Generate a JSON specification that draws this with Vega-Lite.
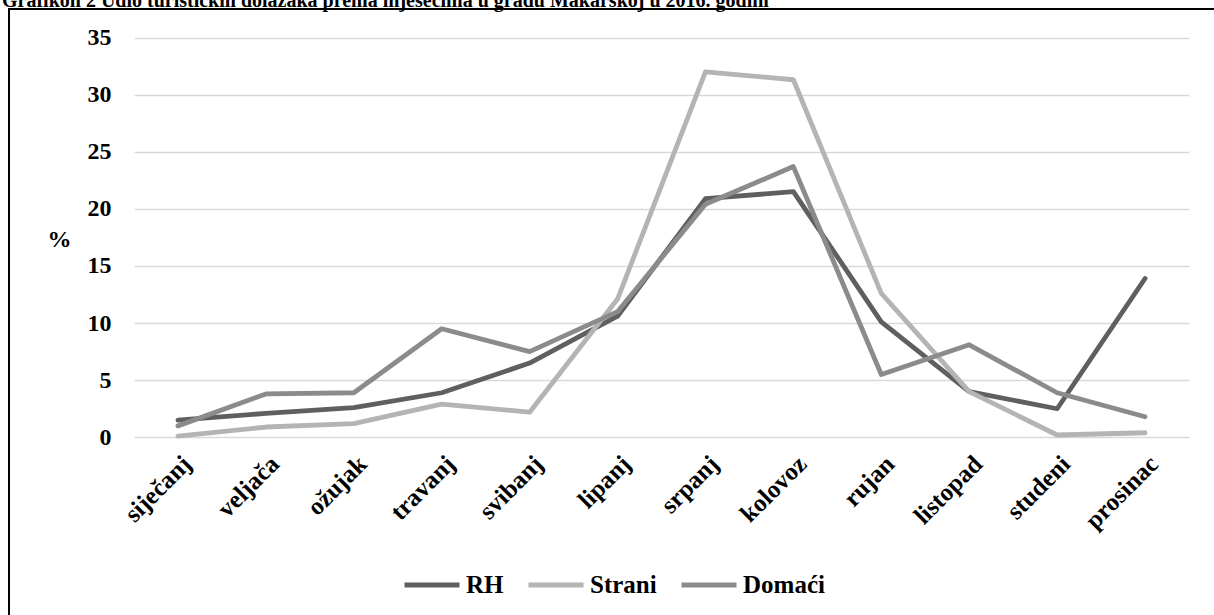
{
  "$schema": "https://vega.github.io/schema/vega-lite/v6.json",
  "autosize": "none",
  "width": 1230,
  "height": 626,
  "padding": {"left": 9, "top": 9, "right": -25, "bottom": -20},
  "background": "white",
  "title": {
    "text": "Grafikon 2 Udio turističkih dolazaka prema mjesecima u gradu Makarskoj u 2016. godini",
    "anchor": "start",
    "frame": "group",
    "font": "Liberation Serif",
    "fontSize": 20,
    "fontWeight": "bold",
    "color": "#000000",
    "baseline": "alphabetic",
    "offset": 0,
    "dx": -7,
    "dy": 18
  },
  "config": {
    "view": {"stroke": "#000000", "strokeWidth": 2},
    "font": "Liberation Serif"
  },
  "data": {
    "values": [
      {"month": "siječanj", "series": "RH", "value": 1.5},
      {"month": "veljača", "series": "RH", "value": 2.1},
      {"month": "ožujak", "series": "RH", "value": 2.6},
      {"month": "travanj", "series": "RH", "value": 3.9},
      {"month": "svibanj", "series": "RH", "value": 6.5},
      {"month": "lipanj", "series": "RH", "value": 10.6},
      {"month": "srpanj", "series": "RH", "value": 20.9},
      {"month": "kolovoz", "series": "RH", "value": 21.5},
      {"month": "rujan", "series": "RH", "value": 10.1},
      {"month": "listopad", "series": "RH", "value": 4.0},
      {"month": "studeni", "series": "RH", "value": 2.5},
      {"month": "prosinac", "series": "RH", "value": 13.9},
      {"month": "siječanj", "series": "Strani", "value": 0.1},
      {"month": "veljača", "series": "Strani", "value": 0.9},
      {"month": "ožujak", "series": "Strani", "value": 1.2},
      {"month": "travanj", "series": "Strani", "value": 2.9},
      {"month": "svibanj", "series": "Strani", "value": 2.2},
      {"month": "lipanj", "series": "Strani", "value": 12.1},
      {"month": "srpanj", "series": "Strani", "value": 32.0},
      {"month": "kolovoz", "series": "Strani", "value": 31.3},
      {"month": "rujan", "series": "Strani", "value": 12.6},
      {"month": "listopad", "series": "Strani", "value": 4.0},
      {"month": "studeni", "series": "Strani", "value": 0.2},
      {"month": "prosinac", "series": "Strani", "value": 0.4},
      {"month": "siječanj", "series": "Domaći", "value": 1.0},
      {"month": "veljača", "series": "Domaći", "value": 3.8},
      {"month": "ožujak", "series": "Domaći", "value": 3.9},
      {"month": "travanj", "series": "Domaći", "value": 9.5},
      {"month": "svibanj", "series": "Domaći", "value": 7.5},
      {"month": "lipanj", "series": "Domaći", "value": 11.0},
      {"month": "srpanj", "series": "Domaći", "value": 20.4},
      {"month": "kolovoz", "series": "Domaći", "value": 23.7},
      {"month": "rujan", "series": "Domaći", "value": 5.5},
      {"month": "listopad", "series": "Domaći", "value": 8.1},
      {"month": "studeni", "series": "Domaći", "value": 3.9},
      {"month": "prosinac", "series": "Domaći", "value": 1.8}
    ]
  },
  "mark": {"type": "line", "strokeWidth": 4.8, "strokeCap": "round", "strokeJoin": "round"},
  "encoding": {
    "x": {
      "field": "month",
      "type": "nominal",
      "sort": ["siječanj", "veljača", "ožujak", "travanj", "svibanj", "lipanj", "srpanj", "kolovoz", "rujan", "listopad", "studeni", "prosinac"],
      "scale": {"type": "point", "range": [125, 1180], "padding": 0.5},
      "axis": {
        "title": null,
        "orient": "bottom",
        "offset": -198,
        "domain": false,
        "ticks": false,
        "grid": false,
        "labelAngle": -45,
        "labelFont": "Liberation Serif",
        "labelFontSize": 25,
        "labelFontWeight": "bold",
        "labelColor": "#000000",
        "labelPadding": 14
      }
    },
    "y": {
      "field": "value",
      "type": "quantitative",
      "scale": {"domain": [0, 35], "range": [428.3, 28.5], "nice": false, "zero": true},
      "axis": {
        "title": "%",
        "titleAngle": 0,
        "titleX": -75,
        "titleY": 230,
        "titleAlign": "center",
        "titleBaseline": "middle",
        "titleFont": "Liberation Serif",
        "titleFontSize": 24,
        "titleFontWeight": "bold",
        "titleColor": "#000000",
        "offset": -125,
        "values": [0, 5, 10, 15, 20, 25, 30, 35],
        "domain": false,
        "ticks": false,
        "grid": true,
        "gridColor": "#d9d9d9",
        "gridWidth": 1.5,
        "labelFont": "Liberation Serif",
        "labelFontSize": 24,
        "labelFontWeight": "bold",
        "labelColor": "#000000",
        "labelPadding": 23
      }
    },
    "color": {
      "field": "series",
      "type": "nominal",
      "scale": {"domain": ["RH", "Strani", "Domaći"], "range": ["#5f5f5f", "#b4b4b4", "#8b8b8b"]},
      "legend": {
        "title": null,
        "orient": "none",
        "direction": "horizontal",
        "legendX": 393,
        "legendY": 546,
        "symbolType": "stroke",
        "symbolSize": 3025,
        "symbolStrokeWidth": 4.8,
        "labelFont": "Liberation Serif",
        "labelFontSize": 25,
        "labelFontWeight": "bold",
        "labelColor": "#000000",
        "labelOffset": 4,
        "columnPadding": 14
      }
    }
  }
}
